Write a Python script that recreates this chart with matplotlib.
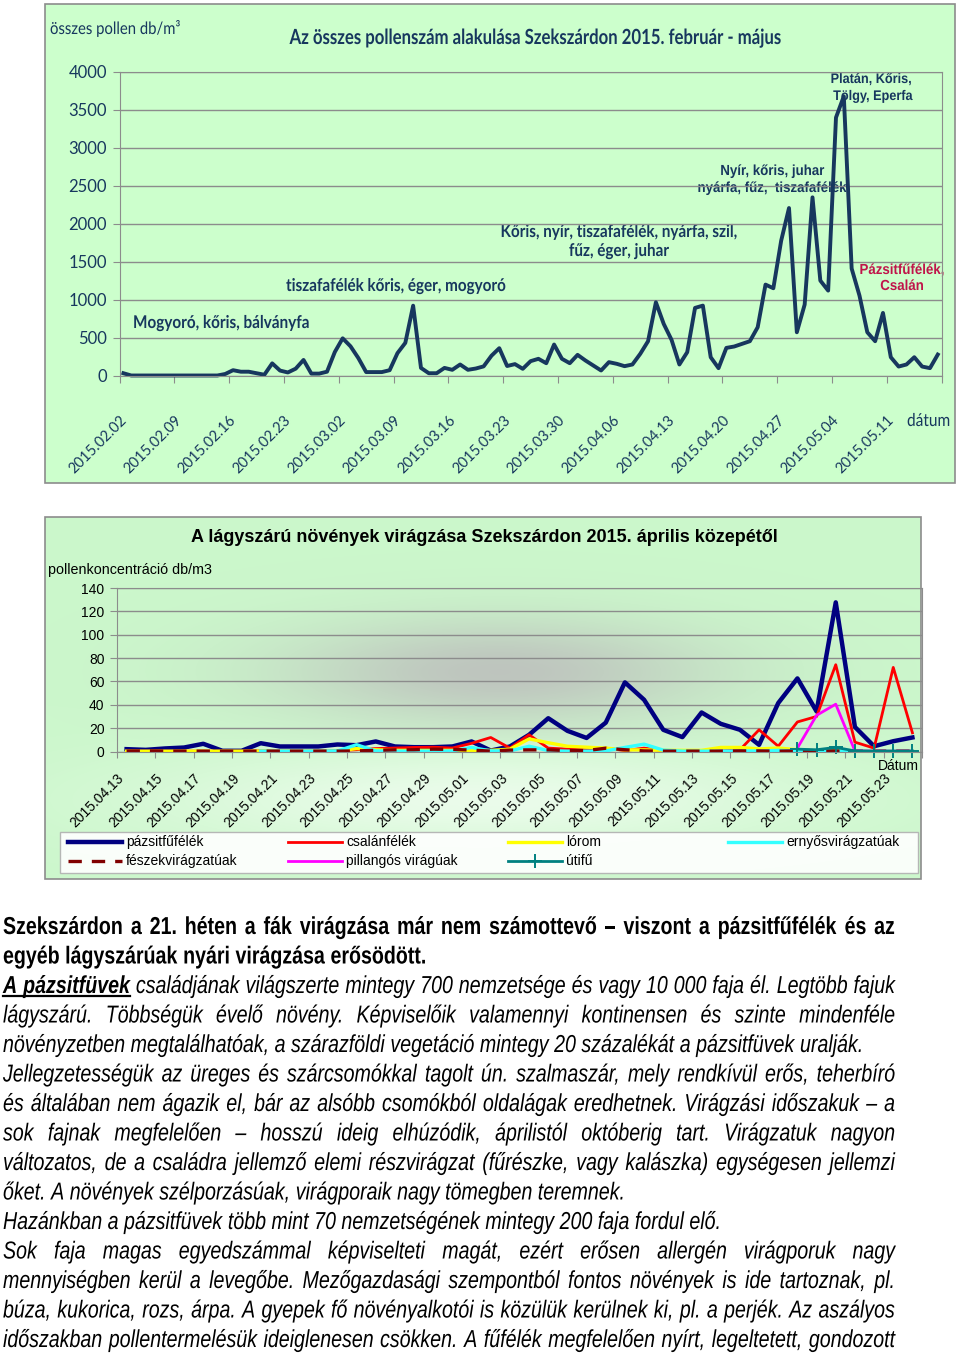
import numpy as np
import matplotlib
matplotlib.use("Agg")
import matplotlib.pyplot as plt
from matplotlib import font_manager as fm
from matplotlib.patches import Rectangle
from matplotlib.patheffects import AbstractPathEffect
from matplotlib.transforms import Affine2D

# ── chart 1: total pollen per day, 2015.02.02 - 2015.05.17 ──────────────
total_pollen = [
    30, 0, 0, 0, 0, 0, 0, 0, 0, 0, 0, 0, 0, 20,
    70, 50, 50, 30, 10, 160, 65, 40, 90, 205, 25, 25, 50, 310,
    490, 385, 230, 45, 45, 45, 70, 295, 430, 920, 100, 30, 30, 100,
    75, 145, 75, 92, 120, 260, 360, 125, 150, 88, 189, 220, 162, 408,
    220, 162, 272, 198, 132, 66, 176, 154, 123, 145, 285, 452, 965, 680,
    470, 145, 307, 891, 921, 241, 97, 364, 382, 417, 452, 636, 1198, 1150,
    1777, 2207, 570, 935, 2348, 1251, 1119, 3400, 3680, 1410, 1053, 570, 452, 825,
    241, 118, 145, 241, 118, 97, 276,
]
week_labels = ["2015.02.02", "2015.02.09", "2015.02.16", "2015.02.23", "2015.03.02",
               "2015.03.09", "2015.03.16", "2015.03.23", "2015.03.30", "2015.04.06",
               "2015.04.13", "2015.04.20", "2015.04.27", "2015.05.04", "2015.05.11"]

# ── chart 2: herbaceous pollen per day, 2015.04.13 - 2015.05.24 ─────────
herb_labels = ["2015.04.13", "2015.04.15", "2015.04.17", "2015.04.19", "2015.04.21",
               "2015.04.23", "2015.04.25", "2015.04.27", "2015.04.29", "2015.05.01",
               "2015.05.03", "2015.05.05", "2015.05.07", "2015.05.09", "2015.05.11",
               "2015.05.13", "2015.05.15", "2015.05.17", "2015.05.19", "2015.05.21",
               "2015.05.23"]
pazsitfu = [2, 1.4, 2.6, 3.4, 6.6, 0.6, 0.6, 7.1, 4.3, 4.3,
            4.3, 6, 5.4, 8.6, 4.3, 3.7, 3.7, 4.3, 8.6, 0.8,
            4.3, 14.3, 28.5, 17.7, 11.6, 24.7, 59.2, 44.3, 18.6, 12.3,
            33.4, 23.7, 18.6, 5.7, 41.5, 62.6, 34.3, 127.7, 21, 4.5,
            8.8, 12]
csalan = [0.3, 0.3, 0.3, 0.3, 0.3, 0.3, 0.3, 0.5, 0.5, 0.5,
          0.5, 0.8, 1.5, 2.5, 3, 3.5, 3.7, 3, 7, 12,
          2.9, 14.3, 2.9, 2, 1.5, 2.9, 0.8, 2.9, 0.5, 0.5,
          0.5, 0.5, 1.4, 18.6, 4.5, 25.3, 30, 74.3, 8, 2.9,
          72, 16]
lorom = [0.3, 0.3, 0.3, 0.3, 0.3, 0.3, 0.3, 0.3, 0.3, 0.3,
         0.3, 0.3, 2.5, 1.5, 1, 1, 1, 1, 1, 1,
         2, 10.8, 7.5, 4.5, 3.7, 2.9, 1.4, 1.4, 1, 1,
         1, 3.5, 3.5, 2.2, 3, 1.5, 0.5, 0.5, 0.5, 0.3,
         0.3, 0.3]
ernyos = [None, None, None, None, None, None, None, 0.3, 0.3, 0.3,
          0.3, 0.5, 5.8, 0.5, 0.3, 0.3, 0.3, 0.5, 3.5, 0.5,
          0.5, 4.5, 0.8, 0.3, 0.3, 0.5, 3.5, 6.3, 1.2, 0.3,
          0.3, 0.3, 0.5, 0.5, 1, 0.5, 0.3, 0.3, 0.3, 0.3,
          0.3, 0.3]
feszek = [0.3, 0.5, 0.3, 0.3, 0.3, 0.2, 0.2, 0.3, 0.3, 0.3,
          0.3, 0.3, 0.5, 1, 1.4, 1.5, 2, 1.8, 1.2, 0.3,
          1.2, 1.4, 1.4, 0.8, 0.8, 2.8, 1.5, 0.5, 0.3, 0.3,
          0.3, 0.3, 0.5, 0.5, 0.3, 0.5, 0.5, 0.5, 0.3, 0.3,
          0.3, 0.3]
pillangos = [None] * 35 + [3, 31, 40.5, 0.5, 0.3, 0.3, 0.3]
utifu = [None] * 35 + [2, 1.5, 3.5, 0.5, 0.3, 0.3, 0.3]

herb_series = [
    ("pázsitfűfélék", pazsitfu, dict(color="#000080", lw=3.2)),
    ("csalánfélék", csalan, dict(color="#ff0000", lw=2.0)),
    ("lórom", lorom, dict(color="#ffff00", lw=2.4)),
    ("ernyősvirágzatúak", ernyos, dict(color="#33ffff", lw=2.4)),
    ("fészekvirágzatúak", feszek, dict(color="#800000", lw=2.4, ls=(0, (4, 3)))),
    ("pillangós virágúak", pillangos, dict(color="#ff00ff", lw=2.0)),
    ("útifű", utifu, dict(color="#008080", lw=2.0, marker="+", ms=10, mew=1.4)),
]

# ── text block below the charts ─────────────────────────────────────────
body_lines = [
    ("Szekszárdon a 21. héten a fák virágzása már nem számottevő – viszont a pázsitfűfélék és az", "bold", True),
    ("egyéb lágyszárúak nyári virágzása erősödött.", "bold", False),
    ("A pázsitfüvek családjának világszerte mintegy 700 nemzetsége és vagy 10 000 faja él. Legtöbb fajuk", "italic", True),
    ("lágyszárú. Többségük évelő növény. Képviselőik valamennyi kontinensen és szinte mindenféle", "italic", True),
    ("növényzetben megtalálhatóak, a szárazföldi vegetáció mintegy 20 százalékát a pázsitfüvek uralják.", "italic", False),
    ("Jellegzetességük az üreges és szárcsomókkal tagolt ún. szalmaszár, mely rendkívül erős, teherbíró", "italic", True),
    ("és általában nem ágazik el, bár az alsóbb csomókból oldalágak eredhetnek. Virágzási időszakuk – a", "italic", True),
    ("sok fajnak megfelelően – hosszú ideig elhúzódik, áprilistól októberig tart. Virágzatuk nagyon", "italic", True),
    ("változatos, de a családra jellemző elemi részvirágzat (fűrészke, vagy kalászka) egységesen jellemzi", "italic", True),
    ("őket. A növények szélporzásúak, virágporaik nagy tömegben teremnek.", "italic", False),
    ("Hazánkban a pázsitfüvek több mint 70 nemzetségének mintegy 200 faja fordul elő.", "italic", False),
    ("Sok faja magas egyedszámmal képviselteti magát, ezért erősen allergén virágporuk nagy", "italic", True),
    ("mennyiségben kerül a levegőbe. Mezőgazdasági szempontból fontos növények is ide tartoznak, pl.", "italic", True),
    ("búza, kukorica, rozs, árpa. A gyepek fő növényalkotói is közülük kerülnek ki, pl. a perjék. Az aszályos", "italic", True),
    ("időszakban pollentermelésük ideiglenesen csökken. A fűfélék megfelelően nyírt, legeltetett, gondozott", "italic", True),
]

W, H = 960, 1353
NAVY = "#17375e"
GRID = "#8c8c8c"
avail = {f.name for f in fm.fontManager.ttflist}
CAL = "Lato"
ARIAL = "Liberation Sans"
NARROW = "Liberation Sans Narrow" in avail
BODY = "Liberation Sans Narrow" if NARROW else ARIAL


class Tall(AbstractPathEffect):
    """Stretch glyphs vertically about the baseline (stand-in for narrow fonts)."""
    def __init__(self, sy):
        super().__init__()
        self.sy = sy

    def draw_path(self, renderer, gc, tpath, affine, rgbFace=None):
        renderer.draw_path(gc, tpath, Affine2D().scale(1, self.sy) + affine, rgbFace)


fig = plt.figure(figsize=(W / 100, H / 100), dpi=100)
fig.patch.set_facecolor("white")
cv = fig.add_axes([0, 0, 1, 1], zorder=0)
cv.axis("off")
R = fig.canvas.get_renderer()


def px_axes(x0, x1, y_top, y_bot):
    ax = fig.add_axes([x0 / W, 1 - y_bot / H, (x1 - x0) / W, (y_bot - y_top) / H], zorder=1)
    ax.patch.set_visible(False)
    return ax


def fit(t, width, sy=None):
    w = t.get_window_extent(R).width
    t.set_fontsize(t.get_fontsize() * width / w)
    if sy:
        t.set_path_effects([Tall(sy)])
    return t


# ── chart 1 ─────────────────────────────────────────────────────────────
cv.add_patch(Rectangle((45, 4), 910, 479, facecolor="#ccffcc", edgecolor=GRID, lw=1.2))
ax1 = px_axes(119.5, 941.7, 72, 375.5)
d1 = np.arange(len(total_pollen))
ax1.plot(d1, total_pollen, color=NAVY, lw=2.8, clip_on=False)
ax1.set_xlim(-0.5, len(total_pollen) - 0.5)
ax1.set_ylim(0, 4000)
ax1.set_yticks(np.arange(0, 4001, 500))
ax1.set_xticks(np.arange(-0.5, len(total_pollen), 7))
ax1.set_xticklabels(week_labels + [""], rotation=45, ha="right", va="top",
                    rotation_mode="anchor", family=CAL, fontsize=10.5, color=NAVY)
for lab in ax1.get_yticklabels():
    lab.set_family(CAL)
ax1.tick_params(axis="x", length=5, color=GRID, pad=22)
ax1.tick_params(axis="y", length=5, color=GRID, labelsize=12, labelcolor=NAVY, pad=4)
ax1.yaxis.grid(True, color=GRID, lw=1)
ax1.set_axisbelow(True)
for s in ax1.spines.values():
    s.set_color(GRID)

fit(cv.text(535, 44, "Az összes pollenszám alakulása Szekszárdon 2015. február - május",
            family=CAL, weight="bold", color=NAVY, ha="center", va="baseline", fontsize=14), 495, 1.25)
fit(cv.text(50, 34, "összes pollen db/m³", family=CAL, color=NAVY, va="baseline", fontsize=12), 130, 1.15)
fit(cv.text(907, 426, "dátum", family=CAL, color=NAVY, va="baseline", fontsize=12), 43, 1.15)

fit(cv.text(133, 328, "Mogyoró, kőris, bálványfa", family=CAL, weight="bold",
            color=NAVY, va="baseline", fontsize=11), 176, 1.15)
fit(cv.text(286, 291, "tiszafafélék kőris, éger, mogyoró", family=CAL, weight="bold",
            color=NAVY, va="baseline", fontsize=11), 219, 1.15)


def two_lines(x, y1, y2, l1, l2, width, family, color, sy):
    t1 = cv.text(x, y1, l1, family=family, weight="bold", color=color, ha="center", va="baseline", fontsize=10)
    t2 = cv.text(x, y2, l2, family=family, weight="bold", color=color, ha="center", va="baseline", fontsize=10)
    w = max(t1.get_window_extent(R).width, t2.get_window_extent(R).width)
    for t in (t1, t2):
        t.set_fontsize(10 * width / w)
        t.set_path_effects([Tall(sy)])


two_lines(619, 237, 256, "Kőris, nyír, tiszafafélék, nyárfa, szil,", "fűz, éger, juhar", 237, CAL, NAVY, 1.15)
two_lines(772, 175, 192, "Nyír, kőris, juhar", "nyárfa, fűz,  tiszafafélék", 149, ARIAL, NAVY, 1.1)
two_lines(871, 83, 100, "Platán, Kőris,", " Tölgy, Eperfa", 83, ARIAL, NAVY, 1.1)
two_lines(902, 274, 290, "Pázsitfűfélék,", "Csalán", 85, ARIAL, "#c0144a", 1.1)

# ── chart 2 ─────────────────────────────────────────────────────────────
X, Y = np.meshgrid(np.linspace(45, 921, 440), np.linspace(517, 879, 180))
img = np.ones(X.shape + (3,)) * np.array([0.80, 0.97, 0.80])
wl = 0.6 * np.exp(-((X - 480) / 320) ** 2 - ((Y - 800) / 50) ** 2)
img += (1 - img) * wl[..., None]
wg = 0.9 * np.exp(-((X - 500) / 220) ** 2 - ((Y - 672) / 55) ** 2) / (1 + np.exp((Y - 748) / 3))
img += (np.array([0.74, 0.75, 0.74]) - img) * wg[..., None]
cv.imshow(img, extent=(45, 921, 879, 517), aspect="auto", interpolation="bilinear", zorder=0)
cv.add_patch(Rectangle((45, 517), 876, 362, fill=False, edgecolor=GRID, lw=1.2))

ax2 = px_axes(117, 922, 588, 751.5)
d2 = np.arange(len(pazsitfu))
for name, vals, style in herb_series:
    ax2.plot(d2, np.array(vals, dtype=float), clip_on=False, **style)
ax2.set_xlim(-0.5, len(pazsitfu) - 0.5)
ax2.set_ylim(0, 140)
ax2.set_yticks(np.arange(0, 141, 20))
ax2.set_xticks(np.arange(-0.5, len(pazsitfu), 2))
ax2.set_xticklabels(herb_labels + [""], rotation=45, ha="right", va="top",
                    rotation_mode="anchor", family=ARIAL, fontsize=10)
for lab in ax2.get_yticklabels():
    lab.set_family(ARIAL)
ax2.tick_params(axis="x", length=4, color=GRID, pad=10)
ax2.tick_params(axis="y", length=5, color=GRID, labelsize=10, pad=4)
ax2.yaxis.grid(True, color=GRID, lw=1)
ax2.set_axisbelow(True)
for s in ax2.spines.values():
    s.set_color(GRID)

fit(cv.text(484, 537, "A lágyszárú növények virágzása Szekszárdon 2015. április közepétől",
            family=ARIAL, weight="bold", ha="center", va="center", fontsize=12), 584)
fit(cv.text(48, 570, "pollenkoncentráció db/m3", family=ARIAL, va="center", fontsize=10.5), 164)
fit(cv.text(878, 766, "Dátum", family=ARIAL, va="center", fontsize=10), 41)

# legend (Excel style: 4 equal columns, row-major)
cv.add_patch(Rectangle((60, 832), 858, 41, facecolor="white", edgecolor="#b0b0b0", lw=1, alpha=0.9))
for k, (name, vals, style) in enumerate(herb_series):
    row, col = divmod(k, 4)
    x0 = 68 + 220 * col
    y = 842 + 19 * row
    cv.plot([x0, x0 + 27, x0 + 54], [y, y, y], markevery=[1], **style)
    cv.text(x0 + 58, y, name, family=ARIAL, fontsize=10, va="center")

# ── body text, justified ─────────────────────────────────────────────────
STY = {
    "bold": dict(family=BODY, weight="bold"),
    "italic": dict(family=BODY, style="italic"),
    "bolditalic": dict(family=BODY, weight="bold", style="italic"),
}
TALL = [] if NARROW else [Tall(1.25)]


def measure(s, size, st):
    t = cv.text(0, 0, s, fontsize=size, **STY[st])
    w = t.get_window_extent(R).width
    t.remove()
    return w


size_i = 10 * 720 / measure(body_lines[10][0], 10, "italic")
size_b = 10 * 424 / measure(body_lines[1][0], 10, "bold")
X0, X1 = 3, 895
for k, (line, st, justify) in enumerate(body_lines):
    y = 934 + 29.5 * k
    size = size_b if st == "bold" else size_i
    words = line.split(" ")
    styles = [st] * len(words)
    if k == 2:
        styles[0] = styles[1] = "bolditalic"
    objs = [cv.text(0, y, w, fontsize=size, va="baseline", path_effects=TALL, **STY[s])
            for w, s in zip(words, styles)]
    widths = [o.get_window_extent(R).width for o in objs]
    if justify:
        gap = (X1 - X0 - sum(widths)) / (len(words) - 1)
    else:
        gap = measure("a a", size, st) - measure("aa", size, st)
    x = X0
    starts = []
    for o, w in zip(objs, widths):
        o.set_x(x)
        starts.append(x)
        x += w + gap
    if k == 2:
        cv.plot([starts[0], starts[1] + widths[1]], [y + 3, y + 3], color="black", lw=1.6)

cv.set_xlim(0, W)
cv.set_ylim(H, 0)
fig.savefig("out.png", dpi=100, facecolor="white")
